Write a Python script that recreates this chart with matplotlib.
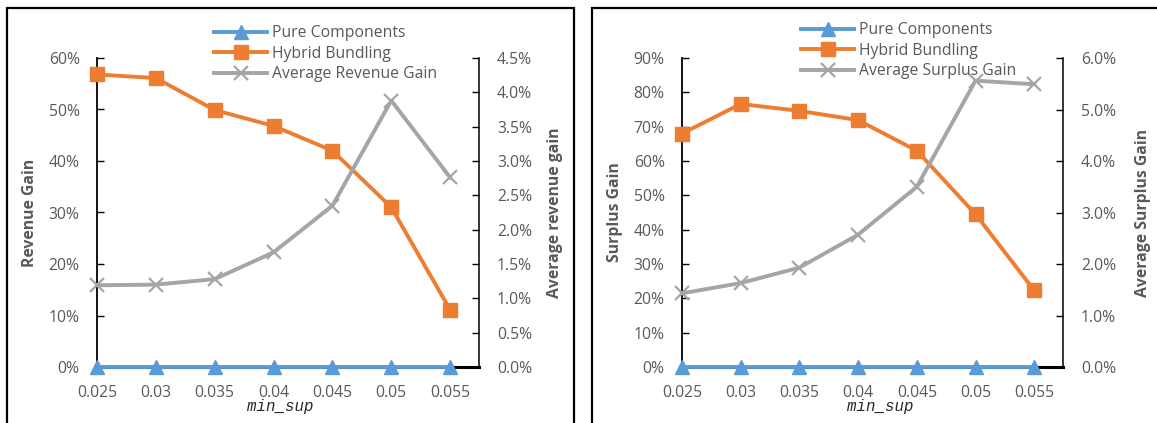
import matplotlib
matplotlib.use("Agg")
import matplotlib.pyplot as plt
from matplotlib.ticker import FuncFormatter, MultipleLocator
from matplotlib.patches import Rectangle

# ---------------- data ----------------
min_sup = ["0.025", "0.03", "0.035", "0.04", "0.045", "0.05", "0.055"]

# left panel (revenue)
rev_pure = [0, 0, 0, 0, 0, 0, 0]
rev_hybrid = [56.8, 56.1, 49.9, 46.8, 42.0, 31.0, 11.1]
rev_avg = [1.19, 1.20, 1.28, 1.67, 2.35, 3.88, 2.76]

# right panel (surplus)
sur_pure = [0, 0, 0, 0, 0, 0, 0]
sur_hybrid = [68.0, 76.6, 74.6, 71.9, 63.0, 44.5, 22.3]
sur_avg = [1.43, 1.63, 1.93, 2.57, 3.50, 5.56, 5.49]

legend_labels_rev = ["Pure Components", "Hybrid Bundling", "Average Revenue Gain"]
legend_labels_sur = ["Pure Components", "Hybrid Bundling", "Average Surplus Gain"]

BLUE = "#5B9BD5"
ORANGE = "#ED7D31"
GRAY = "#A5A5A5"
TXT = "#595959"

W, H = 1157, 423
fig = plt.figure(figsize=(W / 100, H / 100), dpi=100)
plt.rcParams["font.family"] = ["Open Sans", "DejaVu Sans"]

FS = 11.3


def px_rect(x0, y0, x1, y1):
    return [x0 / W, 1 - y1 / H, (x1 - x0) / W, (y1 - y0) / H]


def panel(rect, pure, hybrid, avg, ymax_l, ystep_l, ymax_r, ystep_r, fmt_r,
          ylabel_l, ylabel_r, labels, leg_xy, xlab_x, yl_x, yr_x):
    ax = fig.add_axes(rect)
    ax2 = ax.twinx()
    x = list(range(len(min_sup)))
    l1, = ax.plot(x, pure, color=BLUE, lw=2.8, marker="^", ms=10, clip_on=False, zorder=3)
    l2, = ax.plot(x, hybrid, color=ORANGE, lw=2.8, marker="s", ms=9.5, clip_on=False, zorder=3)
    l3, = ax2.plot(x, avg, color=GRAY, lw=2.8, marker="x", ms=9.5, mew=1.6, clip_on=False, zorder=3)

    ax.set_xlim(0, 6.49)
    ax.set_ylim(0, ymax_l)
    ax2.set_ylim(0, ymax_r)
    ax.set_xticks(x)
    ax.set_xticklabels(min_sup)
    ax.yaxis.set_major_locator(MultipleLocator(ystep_l))
    ax2.yaxis.set_major_locator(MultipleLocator(ystep_r))
    ax.yaxis.set_major_formatter(FuncFormatter(lambda v, p: f"{v:.0f}%"))
    ax2.yaxis.set_major_formatter(FuncFormatter(lambda v, p: fmt_r.format(v)))

    for a in (ax, ax2):
        a.spines["top"].set_visible(False)
    ax.spines["right"].set_visible(False)
    ax2.spines["left"].set_visible(False)
    ax2.spines["bottom"].set_visible(False)
    ax.spines["left"].set_linewidth(1.3)
    ax.spines["bottom"].set_linewidth(2.2)
    ax2.spines["right"].set_linewidth(1.1)

    ax.tick_params(axis="x", length=0, pad=13, labelsize=FS, labelcolor=TXT)
    ax.tick_params(axis="y", direction="in", length=5, width=1, pad=12.5,
                   labelsize=FS, labelcolor=TXT)
    ax2.tick_params(axis="y", direction="in", length=5, width=1, pad=13,
                    labelsize=FS, labelcolor=TXT)

    ax.set_xlabel("min_sup", family="Liberation Mono", style="italic",
                  fontsize=FS, color="#262626", va="center")
    ax.xaxis.set_label_coords(xlab_x, -0.129)
    ax.set_ylabel(ylabel_l, fontsize=FS, fontweight="bold", color=TXT, va="center")
    ax.yaxis.set_label_coords(yl_x, 0.5)
    ax2.set_ylabel(ylabel_r, fontsize=FS, fontweight="bold", color=TXT, va="center")
    ax2.yaxis.set_label_coords(yr_x, 0.5)

    ax2.legend([l1, l2, l3], labels, loc="upper left",
               bbox_to_anchor=(leg_xy[0] / W, 1 - leg_xy[1] / H),
               bbox_transform=fig.transFigure, frameon=False, fontsize=FS,
               handlelength=3.4, handletextpad=0.3, labelspacing=0.3,
               borderpad=0, borderaxespad=0, labelcolor=TXT)
    return ax, ax2


panel(px_rect(97, 58, 479, 367), rev_pure, rev_hybrid, rev_avg,
      60, 10, 4.5, 0.5, "{:.1f}%", "Revenue Gain", "Average revenue gain",
      legend_labels_rev, (214, 25), 0.479, -0.175, 1.199)

panel(px_rect(682, 58, 1063, 367), sur_pure, sur_hybrid, sur_avg,
      90, 10, 6.0, 1.0, "{:.1f}%", "Surplus Gain", "Average Surplus Gain",
      legend_labels_sur, (801, 22), 0.52, -0.176, 1.21)

# panel borders
fig.patches.append(Rectangle((7 / W, -0.05), (574 - 7) / W, 1.05 - 8 / H,
                             transform=fig.transFigure, fill=False,
                             edgecolor="black", lw=1.6, clip_on=False))
fig.patches.append(Rectangle((592 / W, -0.05), (1170 - 592) / W, 1.05 - 8 / H,
                             transform=fig.transFigure, fill=False,
                             edgecolor="black", lw=1.6, clip_on=False))

fig.savefig("out.png", dpi=100)
